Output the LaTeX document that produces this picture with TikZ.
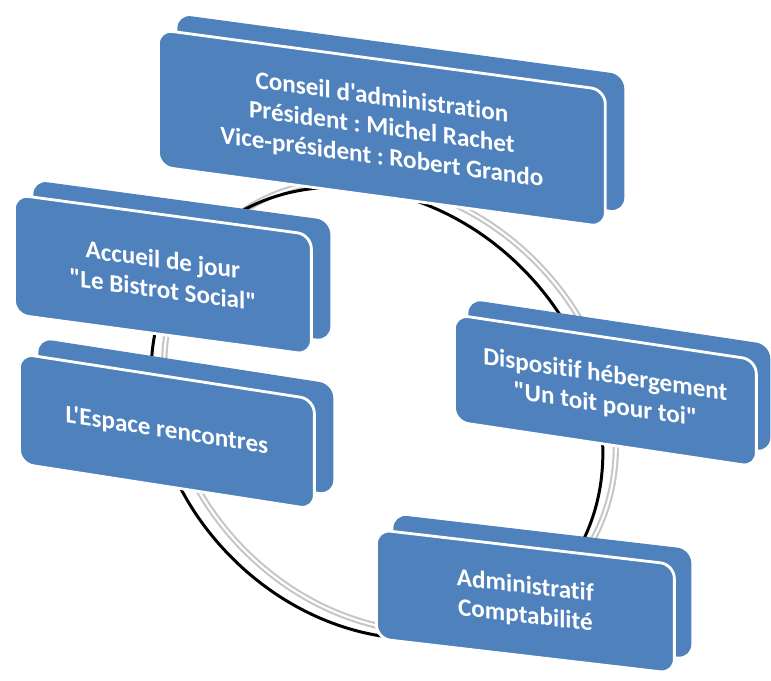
\documentclass[tikz,border=0pt]{standalone}
\usepackage{fontspec}
\setmainfont{Carlito}[Ligatures={TeXOff,NoCommon}]
\usepackage{tikz}
\usetikzlibrary{positioning}
\definecolor{bleu}{HTML}{4F81BD}
\tikzset{
    face/.style={draw=white, line width=1.6pt, fill=bleu, rounded corners=8pt, anchor=north west,
        text=white, font=\bfseries\fontsize{14.3}{17}\selectfont, align=center, inner sep=2pt},
    dos/.style={fill=bleu, rounded corners=8pt, anchor=north west},
    anneau/.style={line width=1.7pt, black},
    reflet/.style={draw=gray!45, line width=1.2pt, double=white, double distance=1.2pt}
}
\frenchspacing

\begin{document}
\begin{tikzpicture}[x=0.02cm, y=-0.02cm]
    \useasboundingbox (0,0) rectangle (771,680);

    % anneau derriere les plaques
    \draw[reflet, rotate around={-45:(390,406)}] (390,406) ellipse [x radius=4.9cm, y radius=4.1cm];
    \draw[anneau, rotate around={-45:(377,413)}] (377,413) ellipse [x radius=4.9cm, y radius=4.1cm];

    % Conseil d'administration
    \node[dos, yslant=-0.135, minimum width=8.94cm, minimum height=2.74cm] (conseil-dos) at (177,14) {};
    \node[face, yslant=-0.135, minimum width=8.94cm, minimum height=2.74cm] (conseil) at (157,28)
        {Conseil d'administration\\Président : Michel Rachet\\Vice-président : Robert Grando};

    % Accueil de jour
    \node[dos, yslant=-0.135, minimum width=5.94cm, minimum height=2.4cm] (accueil-dos) at (33,180) {};
    \node[face, yslant=-0.135, minimum width=5.94cm, minimum height=2.4cm] (accueil) at (13,193)
        {Accueil de jour\\"Le Bistrot Social"};

    % Espace rencontres
    \node[dos, yslant=-0.155, minimum width=5.9cm, minimum height=2.2cm] (espace-dos) at (38,338) {};
    \node[face, yslant=-0.155, minimum width=5.9cm, minimum height=2.2cm] (espace) at (18,352)
        {L'Espace rencontres};

    % Dispositif hebergement
    \node[dos, yslant=-0.15, minimum width=6.04cm, minimum height=2.14cm] (hebergement-dos) at (468,299) {};
    \node[face, yslant=-0.15, minimum width=6.04cm, minimum height=2.14cm] (hebergement) at (453,313)
        {Dispositif hébergement\\"Un toit pour toi"};

    % Administratif
    \node[dos, yslant=-0.117, minimum width=5.96cm, minimum height=2.18cm] (compta-dos) at (393,514) {};
    \node[face, yslant=-0.117, minimum width=5.96cm, minimum height=2.18cm] (compta) at (375,528)
        {Administratif\\Comptabilité};
\end{tikzpicture}
\end{document}
